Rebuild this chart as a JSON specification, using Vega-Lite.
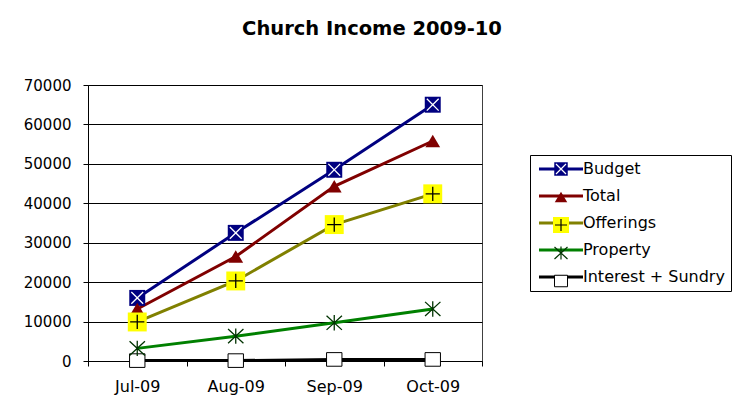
{
  "$schema": "https://vega.github.io/schema/vega-lite/v6.json",
  "width": 394,
  "height": 276,
  "autosize": {"type": "none"},
  "padding": {"left": 88, "top": 85, "right": 250, "bottom": 51},
  "background": "white",
  "title": {
    "text": "Church Income 2009-10",
    "font": "DejaVu Sans",
    "fontSize": 19.5,
    "fontWeight": "bold",
    "color": "#000000",
    "anchor": "middle",
    "frame": "group",
    "dx": 87,
    "offset": 39
  },
  "config": {
    "view": {"stroke": "#404040", "strokeWidth": 1},
    "axis": {
      "labelFont": "DejaVu Sans",
      "labelColor": "#000000",
      "domainColor": "#000000",
      "tickColor": "#000000",
      "gridColor": "#000000",
      "gridOpacity": 1,
      "domainWidth": 1,
      "tickWidth": 1,
      "gridWidth": 1,
      "tickSize": 5,
      "title": null
    },
    "legend": {
      "orient": "none",
      "legendX": 442,
      "legendY": 70,
      "title": null,
      "padding": 6,
      "rowPadding": 11,
      "symbolSize": 100,
      "labelFont": "DejaVu Sans",
      "labelFontSize": 16,
      "labelColor": "#000000",
      "labelLimit": 300,
      "labelOffset": 31
    }
  },
  "data": {
    "values": [
      {"month": "Jul-09", "series": "Budget", "value": 16000},
      {"month": "Aug-09", "series": "Budget", "value": 32500},
      {"month": "Sep-09", "series": "Budget", "value": 48500},
      {"month": "Oct-09", "series": "Budget", "value": 65000},
      {"month": "Jul-09", "series": "Total", "value": 13200},
      {"month": "Aug-09", "series": "Total", "value": 26500},
      {"month": "Sep-09", "series": "Total", "value": 44300},
      {"month": "Oct-09", "series": "Total", "value": 55800},
      {"month": "Jul-09", "series": "Offerings", "value": 9900},
      {"month": "Aug-09", "series": "Offerings", "value": 20300},
      {"month": "Sep-09", "series": "Offerings", "value": 34600},
      {"month": "Oct-09", "series": "Offerings", "value": 42400},
      {"month": "Jul-09", "series": "Property", "value": 3200},
      {"month": "Aug-09", "series": "Property", "value": 6300},
      {"month": "Sep-09", "series": "Property", "value": 9700},
      {"month": "Oct-09", "series": "Property", "value": 13200},
      {"month": "Jul-09", "series": "Interest + Sundry", "value": 100},
      {"month": "Aug-09", "series": "Interest + Sundry", "value": 100},
      {"month": "Sep-09", "series": "Interest + Sundry", "value": 400},
      {"month": "Oct-09", "series": "Interest + Sundry", "value": 400}
    ]
  },
  "encoding": {
    "x": {
      "field": "month",
      "type": "nominal",
      "sort": ["Jul-09", "Aug-09", "Sep-09", "Oct-09"],
      "bandPosition": 0.5,
      "scale": {"type": "band", "paddingInner": 0, "paddingOuter": 0},
      "axis": {
        "labelAngle": 0,
        "labelFontSize": 16,
        "labelPadding": 12,
        "tickBand": "extent",
        "grid": false
      }
    },
    "y": {
      "field": "value",
      "type": "quantitative",
      "scale": {"domain": [0, 70000], "nice": false, "zero": true},
      "axis": {
        "values": [0, 10000, 20000, 30000, 40000, 50000, 60000, 70000],
        "format": "d",
        "labelFontSize": 15,
        "labelPadding": 12,
        "grid": true
      }
    }
  },
  "layer": [
    {
      "mark": {"type": "line", "strokeWidth": 3},
      "encoding": {
        "color": {
          "field": "series",
          "type": "nominal",
          "scale": {
            "domain": ["Budget", "Total", "Offerings", "Property", "Interest + Sundry"],
            "range": ["#000080", "#800000", "#808000", "#008000", "#000000"]
          },
          "legend": {
            "strokeColor": "#000000",
            "fillColor": "#ffffff",
            "symbolType": "M-1,0H7.8",
            "symbolStrokeWidth": 3,
            "symbolFillColor": "transparent",
            "symbolOpacity": 1
          }
        }
      }
    },
    {
      "mark": {"type": "point", "filled": true, "size": 140, "strokeWidth": 1, "opacity": 1},
      "encoding": {
        "shape": {
          "field": "series",
          "type": "nominal",
          "scale": {
            "domain": ["Budget", "Total", "Offerings", "Property", "Interest + Sundry"],
            "range": [
              "M-1.35,-1.35H1.35V1.35H-1.35Z",
              "M0,-1.05L1.25,1.05L-1.25,1.05Z",
              "M-1.6,-1.6H1.6V1.6H-1.6Z",
              "M0,0",
              "M-1.3,-1.15H1.3V1.15H-1.3Z"
            ]
          },
          "legend": {"labelOpacity": 0, "labelExpr": "' '", "labelFontSize": 21, "rowPadding": 6, "padding": 3.5, "symbolOffset": 17, "symbolStrokeWidth": 1, "symbolOpacity": 1}
        },
        "fill": {
          "field": "series",
          "type": "nominal",
          "scale": {
            "domain": ["Budget", "Total", "Offerings", "Property", "Interest + Sundry"],
            "range": ["#000080", "#800000", "#FFFF00", "transparent", "#FFFFFF"]
          },
          "legend": {"labelOpacity": 0, "labelExpr": "' '", "labelFontSize": 21, "rowPadding": 6, "padding": 3.5, "symbolOffset": 17, "symbolStrokeWidth": 1, "symbolOpacity": 1}
        },
        "stroke": {
          "field": "series",
          "type": "nominal",
          "scale": {
            "domain": ["Budget", "Total", "Offerings", "Property", "Interest + Sundry"],
            "range": ["transparent", "transparent", "transparent", "transparent", "#000000"]
          },
          "legend": {"labelOpacity": 0, "labelExpr": "' '", "labelFontSize": 21, "rowPadding": 6, "padding": 3.5, "symbolOffset": 17, "symbolStrokeWidth": 1, "symbolOpacity": 1}
        }
      }
    },
    {
      "mark": {"type": "point", "filled": false, "size": 140, "strokeWidth": 1.3, "opacity": 1},
      "encoding": {
        "shape": {
          "field": "series",
          "type": "nominal",
          "scale": {
            "domain": ["Budget", "Total", "Offerings", "Property", "Interest + Sundry"],
            "range": [
              "M-1,-1L1,1M-1,1L1,-1",
              "M0,0",
              "M0,-1.2V1.2M-1.2,0H1.2",
              "M-1.3,-1.2L1.3,1.2M-1.3,1.2L1.3,-1.2M0,-1.3V1.3",
              "M0,0"
            ]
          },
          "legend": {"labelOpacity": 0, "labelExpr": "' '", "labelFontSize": 21, "rowPadding": 6, "padding": 3.5, "symbolOffset": 17, "symbolStrokeWidth": 1.2, "symbolOpacity": 1, "symbolFillColor": "transparent"}
        },
        "stroke": {
          "field": "series",
          "type": "nominal",
          "scale": {
            "domain": ["Budget", "Total", "Offerings", "Property", "Interest + Sundry"],
            "range": ["#FFFFFF", "transparent", "#000000", "#003300", "transparent"]
          },
          "legend": {"labelOpacity": 0, "labelExpr": "' '", "labelFontSize": 21, "rowPadding": 6, "padding": 3.5, "symbolOffset": 17, "symbolStrokeWidth": 1.2, "symbolOpacity": 1, "symbolFillColor": "transparent"}
        }
      }
    }
  ],
  "resolve": {"scale": {"shape": "independent", "stroke": "independent", "fill": "independent"}}
}
